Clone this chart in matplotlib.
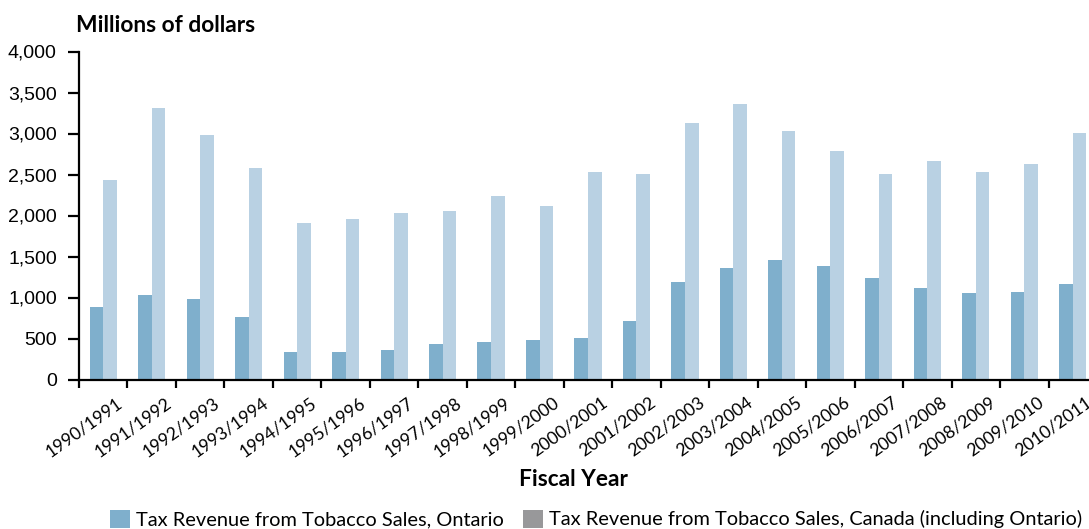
import matplotlib
matplotlib.use("Agg")
import matplotlib.pyplot as plt
import matplotlib.transforms as mtransforms
from matplotlib.patches import Patch
from matplotlib.textpath import TextPath
from matplotlib.font_manager import FontProperties
from matplotlib.ticker import FuncFormatter, MultipleLocator
import numpy as np

fiscal_years = [
    "1990/1991", "1991/1992", "1992/1993", "1993/1994", "1994/1995",
    "1995/1996", "1996/1997", "1997/1998", "1998/1999", "1999/2000",
    "2000/2001", "2001/2002", "2002/2003", "2003/2004", "2004/2005",
    "2005/2006", "2006/2007", "2007/2008", "2008/2009", "2009/2010",
    "2010/2011",
]
ontario = [884, 1031, 982, 762, 336, 336, 360, 433, 458, 482,
           506, 714, 1190, 1360, 1458, 1385, 1238, 1116, 1055, 1068, 1165]
canada = [2434, 3312, 2983, 2580, 1909, 1958, 2031, 2056, 2239, 2117,
          2531, 2507, 3129, 3361, 3032, 2788, 2507, 2666, 2531, 2629, 3007]

ONT_COLOR = "#7FAFCC"
CAN_COLOR = "#B9D1E3"
CAN_LEGEND_COLOR = "#98989A"

W, H = 1089, 529
DPI = 100
fig = plt.figure(figsize=(W / DPI, H / DPI), dpi=DPI)
ax = fig.add_axes([79 / W, 1 - 379.5 / H, (1097 - 79) / W, (379.5 - 51.5) / H])

x = np.arange(len(fiscal_years))
bw = 0.28
ax.bar(x - bw / 2, ontario, width=bw, color=ONT_COLOR, linewidth=0)
ax.bar(x + bw / 2, canada, width=bw, color=CAN_COLOR, linewidth=0)

ax.set_xlim(-0.5, len(fiscal_years) - 0.5)
ax.set_ylim(0, 4000)

for s in ("top", "right"):
    ax.spines[s].set_visible(False)
for s in ("left", "bottom"):
    ax.spines[s].set_linewidth(1.6)
    ax.spines[s].set_color("black")

# y axis
ax.yaxis.set_major_locator(MultipleLocator(500))
ax.yaxis.set_major_formatter(FuncFormatter(lambda v, p: f"{int(v):,}"))
ax.tick_params(axis="y", direction="out", length=8, width=1.6, pad=8,
               labelsize=14)
for lbl in ax.get_yticklabels():
    lbl.set_family("Liberation Sans")

# Size and slant of the category labels: choose font size and angle so the
# slanted "YYYY/YYYY" glyphs span about 79 px across and 62 px down.
label_font = FontProperties(family="Lato", size=10)
ink = TextPath((0, 0), fiscal_years[0], prop=label_font).get_extents()
w_per_pt = ink.width / 10.0 * DPI / 72.0      # glyph run length, px per pt
h_per_pt = ink.height / 10.0 * DPI / 72.0     # digit height, px per pt
span_x, span_y = 79.0, 62.0
best = None
for size in np.arange(10.0, 16.01, 0.05):
    wl, hl = w_per_pt * size, h_per_pt * size
    for ang in np.arange(25.0, 55.01, 0.25):
        t = np.radians(ang)
        dx = wl * np.cos(t) + hl * np.sin(t)
        dy = wl * np.sin(t) + hl * np.cos(t)
        err = (dx - span_x) ** 2 + (dy - span_y) ** 2
        if best is None or err < best[0]:
            best = (err, size, ang)
_, label_size, label_rot = best

# x axis: labels at category centres, tick marks at category boundaries.
# Each label ends (baseline, right end) ~21 px right of and ~25 px below its
# category centre on the axis.
ax.set_xticks(x)
ax.set_xticklabels(fiscal_years, rotation=label_rot, ha="right",
                   va="baseline", rotation_mode="anchor",
                   fontsize=label_size, family="Lato")
ax.tick_params(axis="x", which="major", length=0, pad=0)
ax.set_xticks(np.arange(-0.5, len(fiscal_years) + 0.5, 1.0), minor=True)
ax.tick_params(axis="x", which="minor", direction="out", length=6, width=1.6)
offset = mtransforms.ScaledTranslation(20.5 / DPI, -25.5 / DPI,
                                       fig.dpi_scale_trans)
for lbl in ax.get_xticklabels():
    lbl.set_transform(lbl.get_transform() + offset)

fig.text(76 / W, 1 - 25 / H, "Millions of dollars", fontsize=16.4,
         fontweight="bold", family="Lato", ha="left", va="center")
fig.text(573 / W, 1 - 480 / H, "Fiscal Year", fontsize=16.3,
         fontweight="bold", family="Lato", ha="center", va="center")

handles = [
    Patch(facecolor=ONT_COLOR, edgecolor="none",
          label="Tax Revenue from Tobacco Sales, Ontario"),
    Patch(facecolor=CAN_LEGEND_COLOR, edgecolor="none",
          label="Tax Revenue from Tobacco Sales, Canada (including Ontario)"),
]
fig.legend(handles=handles, loc="center", bbox_to_anchor=(596 / W, 1 - 519 / H),
           ncol=2, frameon=False, handlelength=1.0, handleheight=1.0,
           handletextpad=0.3, columnspacing=1.0,
           prop={"family": "Lato", "size": 14.4})

fig.savefig("out.png", dpi=DPI)
